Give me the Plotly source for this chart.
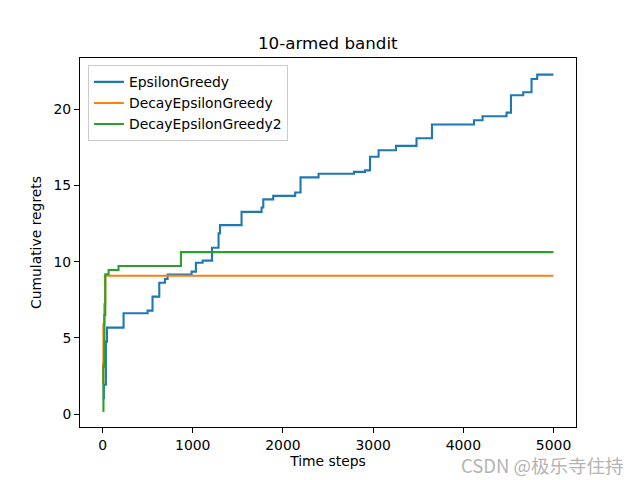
import plotly.graph_objects as go

# ---- data ----
blue_x = [0, 15, 37, 49, 233, 499, 554, 629, 692, 721, 987, 1035, 1109, 1213, 1286, 1302,
          1541, 1763, 1782, 1892, 2136, 2195, 2395, 2787, 2909, 2965, 3060, 3253, 3481, 3652,
          4118, 4213, 4479, 4528, 4664, 4756, 4819, 4999]
blue_y = [1.07, 1.93, 4.76, 5.68, 6.62, 6.79, 7.71, 8.62, 8.87, 9.15, 9.35, 9.93, 10.07, 10.92,
          11.86, 12.40, 13.27, 13.56, 14.09, 14.32, 14.54, 15.53, 15.77, 15.89, 15.99, 16.88,
          17.31, 17.60, 18.10, 19.00, 19.28, 19.54, 19.78, 20.92, 21.11, 21.98, 22.27, 22.27]

orange_x = [0, 5, 10, 20, 30, 4999]
orange_y = [2.0, 3.3, 5.9, 7.2, 9.08, 9.08]

green_x = [0, 10, 20, 30, 67, 177, 869, 4999]
green_y = [0.22, 3.12, 6.5, 9.18, 9.46, 9.72, 10.63, 10.63]

series_names = ["EpsilonGreedy", "DecayEpsilonGreedy", "DecayEpsilonGreedy2"]
series_colors = ["#1f77b4", "#ff7f0e", "#2ca02c"]

x_ticks = [0, 1000, 2000, 3000, 4000, 5000]
y_ticks = [0, 5, 10, 15, 20]

FONT = "DejaVu Sans"

fig = go.Figure()
for xs, ys, name, col in zip([blue_x, orange_x, green_x], [blue_y, orange_y, green_y],
                             series_names, series_colors):
    fig.add_trace(go.Scatter(x=xs, y=ys, mode="lines", name=name,
                             line=dict(color=col, width=2.1, shape="hv")))

axis_common = dict(showline=True, linecolor="black", linewidth=1, mirror=True,
                   ticks="outside", ticklen=5, tickwidth=1, tickcolor="black",
                   showgrid=False, zeroline=False, automargin=False,
                   tickfont=dict(family=FONT, size=13.9, color="black"))

fig.update_layout(
    width=640, height=480,
    margin=dict(l=80, r=64, t=58, b=53, autoexpand=False),
    paper_bgcolor="white", plot_bgcolor="white",
    xaxis=dict(range=[-250, 5249], tickvals=x_ticks, ticktext=[str(v) for v in x_ticks],
               title=dict(text="Time steps", standoff=4,
                          font=dict(family=FONT, size=13.9, color="black")),
               **axis_common),
    yaxis=dict(range=[-0.84, 23.36], tickvals=y_ticks, ticktext=[str(v) for v in y_ticks],
               title=dict(text="Cumulative regrets", standoff=8,
                          font=dict(family=FONT, size=13.9, color="black")),
               **axis_common),
    legend=dict(x=0.016, y=0.98, xanchor="left", yanchor="top",
                bgcolor="rgba(255,255,255,0.8)", bordercolor="#cccccc", borderwidth=1,
                font=dict(family=FONT, size=13.9, color="black"), tracegroupgap=0),
    showlegend=True,
)

fig.add_annotation(text="10-armed bandit", xref="paper", yref="paper",
                   x=0.5, y=1, xanchor="center", yanchor="bottom", yshift=3,
                   showarrow=False, font=dict(family=FONT, size=16.7, color="black"))

fig.add_annotation(text="CSDN @极乐寺住持", xref="paper", yref="paper",
                   x=1.0989, y=-0.104, xanchor="right", yanchor="middle", showarrow=False,
                   borderpad=0,
                   font=dict(family="Noto Sans CJK SC", size=18.5, color="#b4b4b4"))

fig.write_html("out.html", config={"displayModeBar": False},
               post_script="document.body.style.margin='0';")
